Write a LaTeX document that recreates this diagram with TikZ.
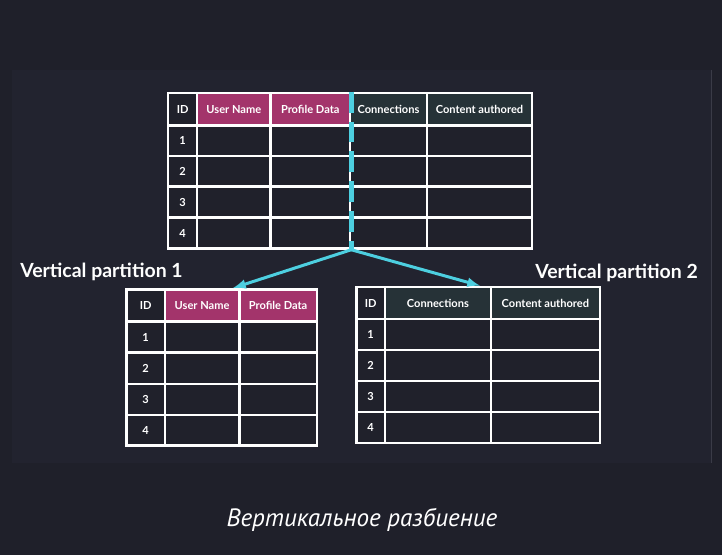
\documentclass[tikz,border=0pt]{standalone}
\usepackage{fontspec}
\setmainfont{Lato}
\newfontfamily\captionfont{PT Sans}
\definecolor{outerbg}{RGB}{31,32,42}
\definecolor{panelbg}{RGB}{34,35,47}
\definecolor{panelrule}{RGB}{58,59,71}
\definecolor{cellbg}{RGB}{32,33,43}
\definecolor{headmag}{RGB}{163,52,107}
\definecolor{headteal}{RGB}{38,50,55}
\definecolor{splitcyan}{RGB}{77,207,224}
\begin{document}
\begin{tikzpicture}[x=0.75pt, y=-0.75pt,
    cell/.style = {draw=white, line width=1.9pt, fill=cellbg, inner sep=0pt, text=white,
      font=\bfseries\fontsize{8.3}{10}\selectfont},
    split line/.style = {draw=splitcyan, line width=3.75pt, dash pattern=on 15.6pt off 6.8pt},
    arrow line/.style = {draw=splitcyan, line width=2.25pt, -latex},
    part label/.style = {text=white, inner sep=0pt, font=\bfseries\fontsize{14.6}{18}\selectfont}]
  %background
  \fill[outerbg] (0, 0) rectangle (722, 555);
  \fill[panelbg] (12, 70) rectangle (711, 463);
  \draw[panelrule] (711.5, 70) -- (711.5, 463);
  \useasboundingbox (0, 0) rectangle (722, 555);
  %nodes
  \begin{scope}[every node/.style = {cell}]
    % original table
    \foreach \l/\r/\t/\f [count=\c] in {168/197.2/ID/cellbg, 197.2/270.5/User Name/headmag,
        270.5/350/Profile Data/headmag, 350/427/Connections/headteal, 427/532/Content authored/headteal} {
      \node[fill=\f, minimum width={(\r-\l)*0.75pt}, minimum height={32.3*0.75pt}]
        (top-h\c) at ({(\l+\r)/2}, 109.15) {\t};
      \foreach \u/\b [count=\n] in {125.3/155.8, 155.8/186.6, 186.6/217.6, 217.6/248.5}
        \node[minimum width={(\r-\l)*0.75pt}, minimum height={(\b-\u)*0.75pt}]
          (top-\n-\c) at ({(\l+\r)/2}, {(\u+\b)/2}) {\ifnum\c=1 \n\fi};
    }
    % vertical partition 1
    \foreach \l/\r/\t/\f [count=\c] in {126.5/164.8/ID/cellbg, 164.8/239.3/User Name/headmag,
        239.3/316.8/Profile Data/headmag} {
      \node[fill=\f, minimum width={(\r-\l)*0.75pt}, minimum height={32.4*0.75pt}]
        (left-h\c) at ({(\l+\r)/2}, 305.5) {\t};
      \foreach \u/\b [count=\n] in {321.7/352.7, 352.7/384, 384/415, 415/445.7}
        \node[minimum width={(\r-\l)*0.75pt}, minimum height={(\b-\u)*0.75pt}]
          (left-\n-\c) at ({(\l+\r)/2}, {(\u+\b)/2}) {\ifnum\c=1 \n\fi};
    }
    % vertical partition 2
    \foreach \l/\r/\t/\f [count=\c] in {356.3/385/ID/cellbg, 385/490.8/Connections/headteal,
        490.8/600/Content authored/headteal} {
      \node[fill=\f, minimum width={(\r-\l)*0.75pt}, minimum height={32.2*0.75pt}]
        (right-h\c) at ({(\l+\r)/2}, 303.1) {\t};
      \foreach \u/\b [count=\n] in {319.2/350.2, 350.2/381, 381/412, 412/443}
        \node[minimum width={(\r-\l)*0.75pt}, minimum height={(\b-\u)*0.75pt}]
          (right-\n-\c) at ({(\l+\r)/2}, {(\u+\b)/2}) {\ifnum\c=1 \n\fi};
    }
  \end{scope}
  \node[part label, anchor=base west] (part1) at (20, 278) {Vertical partition 1};
  \node[part label, anchor=base east] (part2) at (698, 278.3) {Vertical partition 2};
  \node[text=white, inner sep=0pt, anchor=base, font=\captionfont\itshape\fontsize{18.8}{22}\selectfont]
    (caption) at (362, 526.7) {Вертикальное разбиение};
  %edges
  \path[split line] (top-h3.north east) to (top-4-3.south east);
  \coordinate (split) at (top-4-3.south east);
  \coordinate (tip1) at ([xshift=-0.75*7.5pt]left-h2.north east);
  \coordinate (tip2) at ([xshift=-0.75*12pt]right-h2.north east);
  \path[arrow line] (split) to (tip1);
  \path[arrow line] (split) to (tip2);
\end{tikzpicture}
\end{document}
